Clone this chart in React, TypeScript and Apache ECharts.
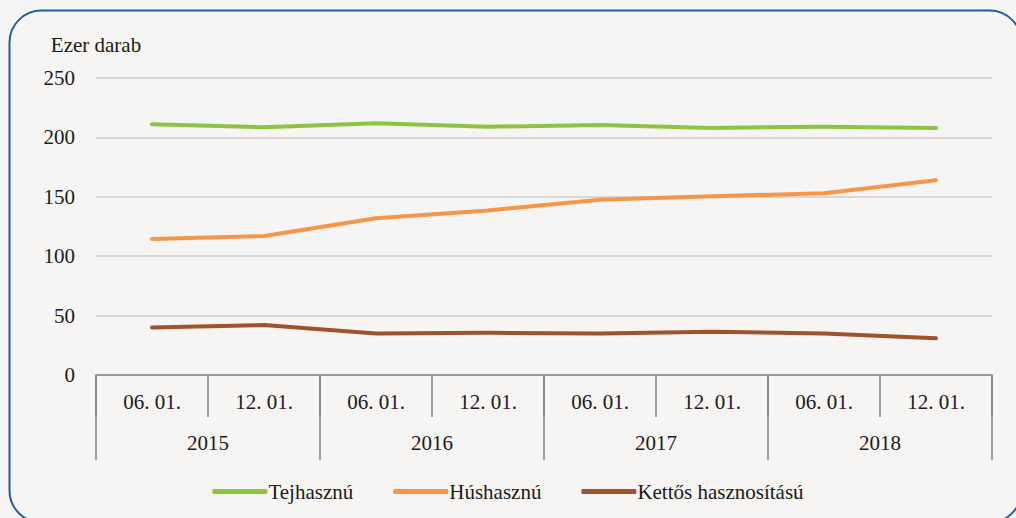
import React, { useEffect, useRef } from "react";
import * as echarts from "echarts";

const periods = ["06. 01.", "12. 01.", "06. 01.", "12. 01.", "06. 01.", "12. 01.", "06. 01.", "12. 01."];
const years = ["2015", "2016", "2017", "2018"];
const tejhasznu = [211, 208.5, 212, 209, 210.5, 208, 209, 208];
const hushasznu = [114.5, 117, 132, 138.5, 147.5, 150.5, 153, 164];
const kettos = [40, 42, 35, 35.5, 35, 36.5, 35, 31];
const seriesNames = ["Tejhasznú", "Húshasznú", "Kettős hasznosítású"];
const colors = ["#8cc63f", "#f79646", "#a0522d"];

const FONT = "Liberation Serif";
const FS = 21;

export default function App() {
  const ref = useRef<HTMLDivElement>(null);
  useEffect(() => {
    document.body.style.margin = "0";
    const chart = echarts.init(ref.current!, null, { renderer: "svg" });
    const axisColor = "#858585";
    chart.setOption({
      animation: false,
      backgroundColor: "#f6f5f3",
      textStyle: { fontFamily: FONT },
      graphic: [
        {
          type: "rect",
          shape: { x: 9.5, y: 10.5, width: 1012, height: 512, r: 32 },
          style: { fill: "none", stroke: "#1f5f9f", lineWidth: 2 },
          silent: true,
        },
      ],
      grid: { left: 96, right: 24, top: 78, bottom: 143, containLabel: false },
      legend: {
        bottom: 11,
        left: "center",
        itemWidth: 55,
        itemHeight: 5,
        itemGap: 40,
        icon: "roundRect",
        textStyle: { fontFamily: FONT, fontSize: FS, color: "#1a1a1a", padding: [0, 0, 0, -4] },
        data: seriesNames,
      },
      xAxis: [
        {
          type: "category",
          data: periods,
          position: "bottom",
          boundaryGap: true,
          axisLine: { show: true, lineStyle: { color: axisColor, width: 1.5 } },
          axisTick: { show: true, length: 42, lineStyle: { color: axisColor, width: 1.5 }, interval: 0 },
          axisLabel: { margin: 16, fontSize: FS, color: "#1a1a1a", fontFamily: FONT, interval: 0 },
        },
        {
          type: "category",
          data: years,
          position: "bottom",
          boundaryGap: true,
          axisLine: { show: false },
          axisTick: { show: true, length: 85, lineStyle: { color: axisColor, width: 1.5 }, interval: 0 },
          axisLabel: { margin: 57, fontSize: FS, color: "#1a1a1a", fontFamily: FONT, interval: 0 },
        },
      ],
      yAxis: {
        type: "value",
        min: 0,
        max: 250,
        interval: 50,
        name: "Ezer darab",
        nameLocation: "end",
        nameGap: 23,
        nameTextStyle: { fontFamily: FONT, fontSize: FS, color: "#1a1a1a", align: "center" },
        axisLine: { show: false },
        axisTick: { show: false },
        axisLabel: { margin: 21, fontSize: FS, color: "#1a1a1a", fontFamily: FONT },
        splitLine: { lineStyle: { color: "#cccccc", width: 1.5 } },
      },
      series: [
        { name: seriesNames[0], data: tejhasznu },
        { name: seriesNames[1], data: hushasznu },
        { name: seriesNames[2], data: kettos },
      ].map((s, i) => ({
        ...s,
        type: "line",
        xAxisIndex: 0,
        symbol: "none",
        color: colors[i],
        lineStyle: { width: 4, color: colors[i], cap: "round", join: "round" },
      })),
    });
    return () => chart.dispose();
  }, []);
  return <div ref={ref} style={{ position: "absolute", left: 0, top: 0, width: 1016, height: 518 }} />;
}
